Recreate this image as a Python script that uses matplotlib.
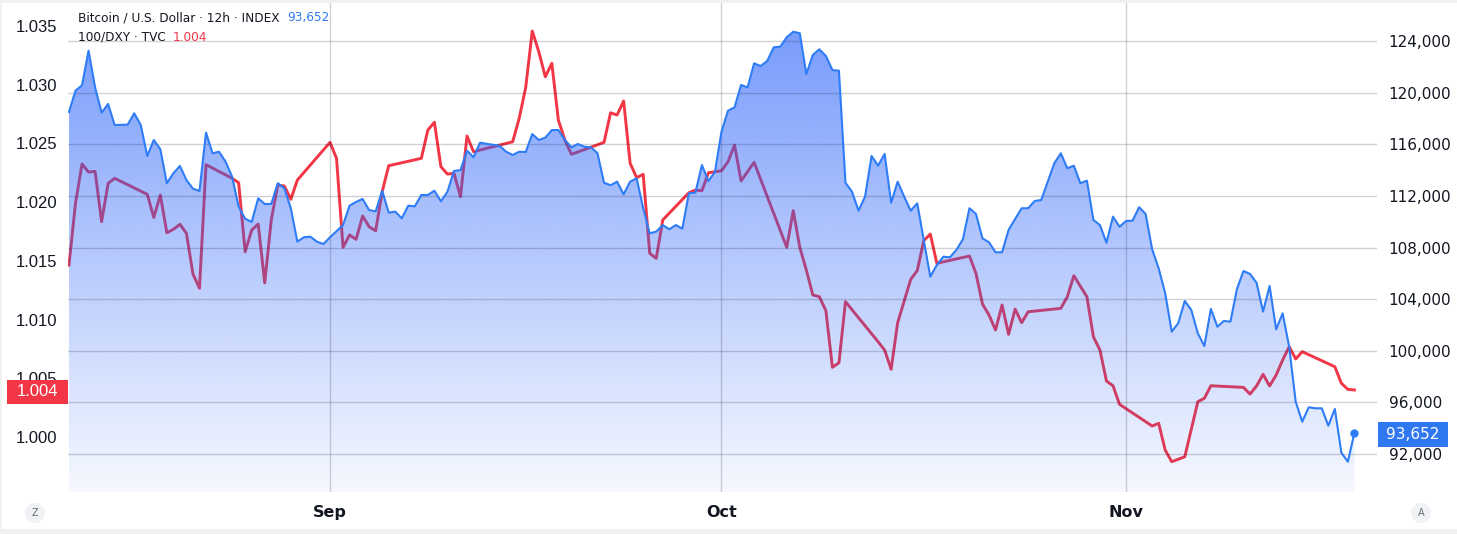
import numpy as np
import pandas as pd
import matplotlib
matplotlib.use("Agg")
import matplotlib.pyplot as plt
import matplotlib.dates as mdates
from matplotlib.patches import Rectangle, Ellipse

# ---- data (12h bars counted from 2025-08-12 00:00) ----
start = pd.Timestamp("2025-08-12 00:00")

btc_bar = [0, 1, 2, 3, 4, 5, 6, 7, 9, 10, 11, 12, 13, 14, 15, 16, 17, 18, 19, 20,
           21, 22, 23, 24, 25, 26, 27, 28, 29, 30, 31, 32, 33, 34, 35, 36, 37, 38, 39, 40,
           42, 43, 44, 45, 46, 47, 48, 49, 50, 51, 52, 53, 54, 55, 56, 57, 58, 59, 60, 61,
           62, 63, 66, 67, 68, 69, 70, 71, 72, 73, 74, 75, 76, 77, 78, 79, 80, 81, 82, 83,
           84, 85, 86, 87, 88, 89, 90, 91, 92, 93, 94, 95, 96, 97, 98, 99, 100, 101, 102, 103,
           104, 105, 106, 107, 108, 109, 110, 111, 112, 113, 114, 115, 116, 117, 118, 119, 120, 121, 122, 123,
           124, 125, 126, 127, 128, 129, 130, 132, 133, 134, 135, 136, 137, 138, 139, 140, 141, 142, 143, 144,
           145, 146, 147, 148, 149, 150, 151, 152, 153, 154, 155, 156, 157, 158, 159, 160, 161, 162, 163, 164,
           165, 166, 167, 168, 169, 170, 171, 172, 173, 174, 175, 176, 177, 178, 179, 180, 181, 182, 183, 184,
           185, 186, 187, 188, 189, 190, 191, 192, 193, 194, 195, 196, 197]
btc_val = [118500, 120150, 120570, 123250, 120410, 118450, 119120, 117490, 117520, 118400,
           117490, 115090, 116330, 115610, 112980, 113750, 114320, 113230, 112560, 112380,
           116900, 115300, 115420, 114650, 113490, 111160, 110230, 109980, 111810, 111370,
           111370, 112980, 112590, 111040, 108450, 108790, 108840, 108450, 108270, 108790,
           109740, 111240, 111530, 111760, 110900, 110800, 112400, 110700, 110780, 110260,
           111240, 111190, 112070, 112070, 112400, 111580, 112320, 113930, 114000, 115500,
           114990, 116120, 115870, 115420, 115170, 115420, 115400, 116790, 116330, 116510,
           117100, 117100, 116330, 115760, 116020, 115810, 115760, 115300, 113020, 112820,
           113100, 112120, 113100, 113360, 111040, 109100, 109230, 109740, 109410, 109740,
           109460, 112200, 112250, 114390, 113150, 113870, 116970, 118600, 118860, 120590,
           120410, 122270, 122060, 122450, 123510, 123560, 124290, 124720, 124600, 121440,
           122920, 123360, 122840, 121750, 121700, 113020, 112320, 110850, 111940, 115090,
           114340, 115250, 111470, 113100, 111940, 110850, 111420, 105740, 106650, 107290,
           107240, 107810, 108640, 111040, 110600, 108710, 108400, 107630, 107630, 109360,
           110210, 111040, 111040, 111600, 111680, 113100, 114520, 115300, 114140, 114340,
           112980, 113180, 110130, 109740, 108370, 110390, 109610, 110050, 110080, 111120,
           110600, 107860, 106390, 104450, 101480, 102130, 103860, 103160, 101350, 100370,
           103240, 101860, 102310, 102250, 104790, 106180, 105950, 105270, 103030, 105020,
           101660, 102900, 100310, 96050, 94500, 95620, 95540, 95540, 94190, 95490,
           92100, 91400, 93652]

dxy_bar = [0, 1, 2, 3, 4, 5, 6, 7, 12, 13, 14, 15, 16, 17, 18, 19, 20, 21, 25, 26,
           27, 28, 29, 30, 31, 32, 33, 34, 35, 40, 41, 42, 43, 44, 45, 46, 47, 48, 49, 54,
           55, 56, 57, 58, 59, 60, 61, 62, 63, 68, 69, 70, 71, 72, 73, 74, 75, 76, 77, 82,
           83, 84, 85, 86, 87, 88, 89, 90, 91, 95, 96, 97, 98, 100, 101, 102, 103, 105, 110, 111,
           112, 113, 114, 115, 116, 117, 118, 119, 124, 125, 126, 127, 129, 130, 131, 132, 133, 138, 139, 140,
           141, 142, 143, 144, 145, 146, 147, 152, 153, 154, 156, 157, 158, 159, 160, 161, 166, 167, 168, 169,
           171, 173, 174, 175, 180, 181, 182, 183, 184, 185, 186, 187, 188, 189, 194, 195, 196, 197]
dxy_val = [1.01464, 1.01990, 1.02325, 1.02256, 1.02262, 1.01833, 1.02160, 1.02203, 1.02066, 1.01870,
           1.02060, 1.01739, 1.01768, 1.01811, 1.01734, 1.01388, 1.01266, 1.02319, 1.02203, 1.02165,
           1.01577, 1.01762, 1.01813, 1.01313, 1.01848, 1.02146, 1.02137, 1.02024, 1.02188, 1.02509,
           1.02373, 1.01615, 1.01720, 1.01683, 1.01882, 1.01790, 1.01756, 1.02089, 1.02310, 1.02373,
           1.02614, 1.02680, 1.02302, 1.02239, 1.02245, 1.02046, 1.02563, 1.02429, 1.02444, 1.02514,
           1.02714, 1.02978, 1.03457, 1.03281, 1.03068, 1.03182, 1.02699, 1.02529, 1.02407, 1.02509,
           1.02761, 1.02742, 1.02861, 1.02331, 1.02208, 1.02237, 1.01564, 1.01521, 1.01848, 1.02080,
           1.02103, 1.02097, 1.02250, 1.02267, 1.02344, 1.02486, 1.02180, 1.02339, 1.01615, 1.01927,
           1.01615, 1.01422, 1.01209, 1.01194, 1.01075, 1.00593, 1.00632, 1.01152, 1.00811, 1.00740,
           1.00576, 1.00973, 1.01342, 1.01416, 1.01671, 1.01728, 1.01479, 1.01541, 1.01393, 1.01132,
           1.01038, 1.00911, 1.01124, 1.00874, 1.01089, 1.00973, 1.01066, 1.01095, 1.01194, 1.01373,
           1.01194, 1.00853, 1.00740, 1.00476, 1.00436, 1.00278, 1.00093, 1.00116, 0.99888, 0.99789,
           0.99831, 1.00300, 1.00329, 1.00436, 1.00422, 1.00365, 1.00434, 1.00533, 1.00434, 1.00527,
           1.00655, 1.00768, 1.00664, 1.00726, 1.00598, 1.00457, 1.00405, 1.00400]

month_ticks = ["2025-09-01", "2025-10-01", "2025-11-01"]
month_labels = ["Sep", "Oct", "Nov"]
left_ticks = [1.000, 1.005, 1.010, 1.015, 1.020, 1.025, 1.030, 1.035]
right_ticks = [92000, 96000, 100000, 104000, 108000, 112000, 116000, 120000, 124000]

btc_label = "Bitcoin / U.S. Dollar · 12h · INDEX"
dxy_label = "100/DXY · TVC"

# ---- style ----
W, H = 1457, 534
BLUE = "#2e7cf6"
BLUE_BOX = "#2f78f2"
RED = "#f23645"
TXT = "#131722"
GRID = (0.1, 0.1, 0.2, 0.2)


def to_num(bars):
    t = start + pd.to_timedelta(np.asarray(bars) * 12, unit="h")
    return mdates.date2num(t.to_pydatetime())


def fx(px):
    return px / W


def fy(py):
    return 1 - py / H


bx = to_num(btc_bar)
dx = to_num(dxy_bar)

fig = plt.figure(figsize=(W / 100, H / 100), dpi=100)
fig.patch.set_facecolor("#f0f1f3")
fig.add_artist(Rectangle((fx(2), fy(529)), fx(1457) - fx(2), fy(3) - fy(529),
                         transform=fig.transFigure, facecolor="white", edgecolor="none", zorder=-10))

ax = fig.add_axes([fx(68), fy(492), fx(1377) - fx(68), fy(3) - fy(492)])
ax.set_facecolor("none")
ax2 = ax.twinx()

x0 = to_num([0])[0] - 0.075
x1 = to_num([200.46])[0]
ybot, ytop_ax = 89056, 126944
ax.set_xlim(x0, x1)
ax.set_ylim(0.99531, 1.03696)
ax2.set_xlim(x0, x1)
ax2.set_ylim(ybot, ytop_ax)

# 100/DXY line on left axis (under the area fill)
ax.plot(dx, dxy_val, color=RED, lw=2.1, solid_joinstyle="round", zorder=2)

# BTC gradient area on right axis
poly = ax2.fill_between(bx, btc_val, ybot, facecolor="none", edgecolor="none")
grad = np.zeros((256, 1, 4))
grad[:, 0, 0] = 41 / 255
grad[:, 0, 1] = 98 / 255
grad[:, 0, 2] = 250 / 255
grad[:, 0, 3] = np.linspace(0.045, 0.63, 256)
im = ax2.imshow(grad, extent=[bx[0], bx[-1], ybot, max(btc_val)], origin="lower",
                aspect="auto", zorder=1, interpolation="bilinear")
im.set_clip_path(poly.get_paths()[0], transform=ax2.transData)

# grid on top of the fill (semi-transparent so it darkens inside the area)
for v in right_ticks:
    ax2.axhline(v, color=GRID, lw=1.0, zorder=1.5)
for d in month_ticks:
    ax2.axvline(mdates.date2num(pd.Timestamp(d).to_pydatetime()), color=GRID, lw=1.0, zorder=1.5)

ax2.plot(bx, btc_val, color=BLUE, lw=1.5, solid_joinstyle="round", zorder=3)
ax2.plot(bx[-1], btc_val[-1], "o", color=BLUE, ms=5, zorder=4)

ax2.set_xlim(x0, x1)
ax2.set_ylim(ybot, ytop_ax)

# axes cosmetics
for a in (ax, ax2):
    for s in a.spines.values():
        s.set_visible(False)
    a.tick_params(length=0)

ax.set_yticks(left_ticks)
ax.set_yticklabels([f"{v:.3f}" for v in left_ticks], fontsize=12, color=TXT, family="Liberation Sans")
ax.tick_params(axis="y", pad=8)
ax2.set_yticks(right_ticks)
ax2.set_yticklabels([f"{v:,}" for v in right_ticks], fontsize=11, color=TXT)
ax2.tick_params(axis="y", pad=8.5)
ax.set_xticks([mdates.date2num(pd.Timestamp(d).to_pydatetime()) for d in month_ticks])
ax.set_xticklabels(month_labels, fontsize=11.5, fontweight="bold", color=TXT)
ax.tick_params(axis="x", pad=9.5)

# legend texts
fig.text(fx(78), fy(18), btc_label, fontsize=8.7, color=TXT, va="center", ha="left")
fig.text(fx(287), fy(18), f"{btc_val[-1]:,}", fontsize=8.7, color=BLUE, va="center", ha="left")
fig.text(fx(78), fy(37.5), dxy_label, fontsize=8.7, color=TXT, va="center", ha="left")
fig.text(fx(173), fy(37.5), f"{dxy_val[-1]:.3f}", fontsize=8.7, color=RED, va="center", ha="left")

# last-price boxes
inv = fig.transFigure.inverted()
yl = inv.transform(ax.transData.transform((x0, dxy_val[-1])))[1] - 2 / H
fig.add_artist(Rectangle((fx(7), yl - 12 / H), fx(68) - fx(7), 24 / H, transform=fig.transFigure,
                         facecolor=RED, edgecolor="none", zorder=5))
fig.text(fx(38), yl, f"{dxy_val[-1]:.3f}", fontsize=12, color="white", family="Liberation Sans",
         ha="center", va="center", zorder=6)
yr = inv.transform(ax2.transData.transform((x0, btc_val[-1])))[1] - 1.5 / H
fig.add_artist(Rectangle((fx(1378), yr - 12.5 / H), fx(1448) - fx(1378), 25 / H, transform=fig.transFigure,
                         facecolor=BLUE_BOX, edgecolor="none", zorder=5))
fig.text(fx(1413), yr, f"{btc_val[-1]:,}", fontsize=11, color="white", ha="center", va="center", zorder=6)

# corner buttons
for cx, letter in [(35, "Z"), (1421, "A")]:
    fig.add_artist(Ellipse((fx(cx), fy(513)), 20 / W, 20 / H, transform=fig.transFigure,
                           facecolor="#f0f2f5", edgecolor="none", zorder=5))
    fig.text(fx(cx), fy(513), letter, fontsize=7, color="#6a6d78", ha="center", va="center", zorder=6)

fig.savefig("out.png", dpi=100, facecolor=fig.get_facecolor())
